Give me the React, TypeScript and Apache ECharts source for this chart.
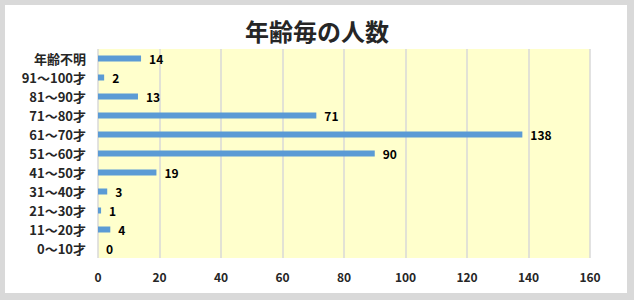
import React, { useEffect, useRef } from "react";
import * as echarts from "echarts";

const categories = ["0〜10才", "11〜20才", "21〜30才", "31〜40才", "41〜50才", "51〜60才", "61〜70才", "71〜80才", "81〜90才", "91〜100才", "年齢不明"];
const counts = [0, 4, 1, 3, 19, 90, 138, 71, 13, 2, 14];
const titleText = "年齢毎の人数";

const FONT = '"Noto Sans CJK JP", "Noto Sans", sans-serif';

export default function App() {
  const ref = useRef<HTMLDivElement>(null);
  useEffect(() => {
    const chart = echarts.init(ref.current!, undefined, { renderer: "svg" });
    chart.setOption({
      animation: false,
      backgroundColor: "#d9d9d9",
      graphic: [
        {
          type: "rect",
          z: -10,
          shape: { x: 5, y: 5, width: 622, height: 288 },
          style: { fill: "#ffffff" },
          silent: true,
        },
      ],
      title: {
        text: titleText,
        left: "center",
        top: 13,
        textStyle: { fontFamily: FONT, fontSize: 24, fontWeight: "bold", color: "#262626" },
      },
      grid: {
        left: 98,
        right: 44,
        top: 49,
        bottom: 42,
        show: true,
        backgroundColor: "#ffffcc",
        borderWidth: 0,
      },
      xAxis: {
        type: "value",
        min: 0,
        max: 160,
        interval: 20,
        axisLine: { show: false },
        axisTick: { show: false },
        splitLine: { show: true, lineStyle: { color: "#d9d9d9", width: 1.5 } },
        axisLabel: { margin: 12, fontFamily: FONT, fontSize: 12, fontWeight: "bold", color: "#262626" },
      },
      yAxis: {
        type: "category",
        data: categories,
        axisLine: { show: false },
        axisTick: { show: false },
        axisLabel: { margin: 12, fontFamily: FONT, fontSize: 13, fontWeight: "bold", color: "#262626" },
      },
      series: [
        {
          type: "bar",
          data: counts,
          barWidth: 6,
          itemStyle: { color: "#5b9bd5" },
          label: {
            show: true,
            position: "right",
            distance: 8,
            fontFamily: FONT,
            fontSize: 12,
            fontWeight: "bold",
            color: "#000000",
          },
        },
      ],
    });
    return () => chart.dispose();
  }, []);
  return (
    <div style={{ position: "absolute", left: 0, top: 0, width: 634, height: 300 }}>
      <div ref={ref} style={{ width: 634, height: 300 }} />
    </div>
  );
}
